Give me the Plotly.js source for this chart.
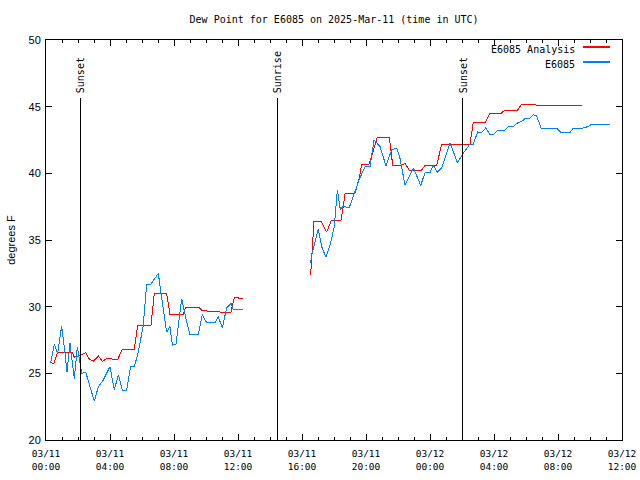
<!DOCTYPE html>
<html>
<head>
<meta charset="utf-8">
<script src="https://cdn.plot.ly/plotly-3.0.1.min.js"></script>
<style>
html,body{margin:0;padding:0;background:#fff;}
#chart{width:640px;height:480px;}
#chart .scatterlayer path{shape-rendering:crispEdges;}
#chart .shapelayer path:nth-of-type(-n+3){shape-rendering:crispEdges;}
</style>
</head>
<body>
<div id="chart"></div>
<script>
// Hours since 03/11 00:00 UTC
const obsHours = [0.29,0.52,0.73,0.98,1.19,1.31,1.5,1.6,1.77,1.96,2.06,2.23,2.48,3.02,3.27,3.58,4.0,4.27,4.52,4.77,5.04,5.29,5.52,5.77,6.08,6.19,6.29,6.56,7.02,7.19,7.4,7.54,7.75,7.9,8.13,8.48,8.75,9.0,9.52,9.77,10.04,10.56,10.77,11.02,11.29,11.56,11.7,12.29,
  14.5,
  16.54,16.65,17.02,17.23,17.5,17.75,18.02,18.21,18.4,18.54,18.96,19.21,19.6,19.94,20.25,20.5,20.88,21.25,21.6,21.92,22.13,22.44,22.96,23.42,23.69,24.0,24.2,24.46,24.73,25.25,25.71,26.08,26.5,26.7,26.98,27.23,27.48,27.75,27.96,28.23,28.69,28.9,29.21,29.48,29.73,29.94,30.19,30.46,30.67,30.94,31.92,32.19,32.75,32.96,33.58,33.85,34.14,35.25];
const obsValues = [25.8,27.2,26.5,28.55,26.5,25.1,27.25,26.25,24.6,27.0,26.25,25.0,25.1,22.9,24.0,24.5,25.5,23.75,24.9,23.75,23.75,25.5,25.5,26.6,28.6,30.5,31.7,31.7,32.5,31.0,29.4,28.1,28.5,27.1,27.2,30.6,29.1,27.9,27.9,29.4,28.8,28.8,29.25,28.4,29.9,30.25,29.8,29.8,
  null,
  33.3,34.1,35.8,34.5,33.7,34.6,36.0,38.75,37.25,37.5,37.45,38.25,39.6,40.5,40.5,42.5,42.0,40.55,41.75,41.9,41.1,39.1,40.4,39.1,40.05,40.05,40.6,40.1,40.4,42.3,40.8,41.5,42.2,42.2,43.1,43.05,43.4,42.9,42.9,43.25,43.25,43.5,43.5,43.8,43.9,44.1,44.1,44.4,44.3,43.4,43.4,43.05,43.05,43.4,43.4,43.5,43.7,43.7];

const anaHours = [0.29,0.5,0.73,1.65,1.77,2.02,2.23,2.48,2.69,2.96,3.27,3.52,3.79,4.48,4.77,5.52,5.73,6.56,6.77,7.54,7.75,8.58,8.73,9.56,9.77,10.88,11.56,11.77,12.29,
  14.5,
  16.54,16.65,16.75,17.19,17.54,17.85,18.44,18.58,18.69,19.31,19.6,19.73,20.19,20.56,20.7,21.46,21.67,22.23,22.44,22.69,23.48,23.69,24.42,24.73,26.5,26.7,27.44,27.75,28.44,28.69,29.48,29.73,30.52,30.67,33.48];
const anaValues = [25.8,25.75,26.6,26.6,26.2,26.3,26.4,26.55,26.1,25.9,26.3,25.9,26.1,26.05,26.8,26.8,28.6,28.6,31.0,31.0,29.4,29.4,29.95,29.95,29.7,29.6,29.6,30.7,30.6,
  null,
  32.4,34.75,36.4,36.4,35.6,36.5,36.5,37.5,38.5,38.5,39.75,40.7,40.7,42.1,42.7,42.7,40.6,40.6,40.75,40.25,40.25,40.6,40.6,42.2,42.2,43.8,43.8,44.5,44.5,44.75,44.75,45.2,45.2,45.1,45.1];

const eventNames = ["Sunset","Sunrise","Sunset"];
const eventHours = [2.125, 14.44, 26.06];

const tickHours = [0,4,8,12,16,20,24,28,32,36];
const tickLabels = ["03/11<br>00:00","03/11<br>04:00","03/11<br>08:00","03/11<br>12:00","03/11<br>16:00","03/11<br>20:00","03/12<br>00:00","03/12<br>04:00","03/12<br>08:00","03/12<br>12:00"];

const seriesNames = ["E6085 Analysis","E6085"];
const seriesColors = ["#ff0000","#0080ff"];

const mono = "DejaVu Sans Mono, monospace";
const sans = "Liberation Sans, Arial, sans-serif";

const traces = [
  {x: anaHours, y: anaValues, name: seriesNames[0], mode: "lines", line: {color: seriesColors[0], width: 1}, connectgaps: false},
  {x: obsHours, y: obsValues, name: seriesNames[1], mode: "lines", line: {color: seriesColors[1], width: 1}, connectgaps: false}
];

const shapes = [];
const annotations = [];
eventHours.forEach((h, i) => {
  shapes.push({type: "line", xref: "x", yref: "paper", x0: h, x1: h, y0: 0, y1: 0.855, line: {color: "#000000", width: 1}});
  annotations.push({xref: "x", yref: "paper", x: h, y: 0.862, text: eventNames[i], showarrow: false, textangle: -90, xanchor: "center", yanchor: "bottom", font: {family: mono, size: 10, color: "#000"}});
});
// legend (gnuplot style: text then sample)
const legTextY = [0.976, 0.94];
const legLineY = [0.9825, 0.945];
seriesNames.forEach((n, i) => {
  annotations.push({xref: "paper", yref: "paper", x: 0.922, y: legTextY[i], text: n, showarrow: false, xanchor: "right", yanchor: "middle", font: {family: mono, size: 10, color: "#000"}});
  shapes.push({type: "line", xref: "paper", yref: "paper", x0: 0.932, x1: 0.979, y0: legLineY[i], y1: legLineY[i], line: {color: seriesColors[i], width: 1.5}});
});

const layout = {
  width: 640, height: 480,
  margin: {l: 46, r: 18, t: 40, b: 40, pad: 0},
  paper_bgcolor: "#fff", plot_bgcolor: "#fff",
  showlegend: false,
  title: {text: "Dew Point for E6085 on 2025-Mar-11 (time in UTC)", font: {family: mono, size: 10, color: "#000"}, x: 0.522, xanchor: "center", y: 0.96, yanchor: "middle"},
  xaxis: {
    range: [0, 36], tickmode: "array", tickvals: tickHours, ticktext: tickLabels,
    ticks: "inside", ticklen: 6, tickcolor: "#000", tickwidth: 1,
    minor: {dtick: 1, ticks: "inside", ticklen: 3, tickcolor: "#000", showgrid: false},
    showline: true, linecolor: "#000", linewidth: 1, mirror: "allticks",
    showgrid: false, zeroline: false, ticklabelstandoff: 5,
    tickfont: {family: mono, size: 9.5, color: "#000"}
  },
  yaxis: {
    range: [20, 50], tickmode: "array", tickvals: [20,25,30,35,40,45,50],
    ticks: "inside", ticklen: 6, tickcolor: "#000", tickwidth: 1,
    showline: true, linecolor: "#000", linewidth: 1, mirror: "allticks",
    showgrid: false, zeroline: false, ticklabelstandoff: 2,
    tickfont: {family: sans, size: 11, color: "#000"},
    title: {text: "degrees F", font: {family: sans, size: 11, color: "#000"}, standoff: 10}
  },
  shapes: shapes,
  annotations: annotations
};

Plotly.newPlot("chart", traces, layout, {displayModeBar: false, staticPlot: true});
</script>
</body>
</html>
